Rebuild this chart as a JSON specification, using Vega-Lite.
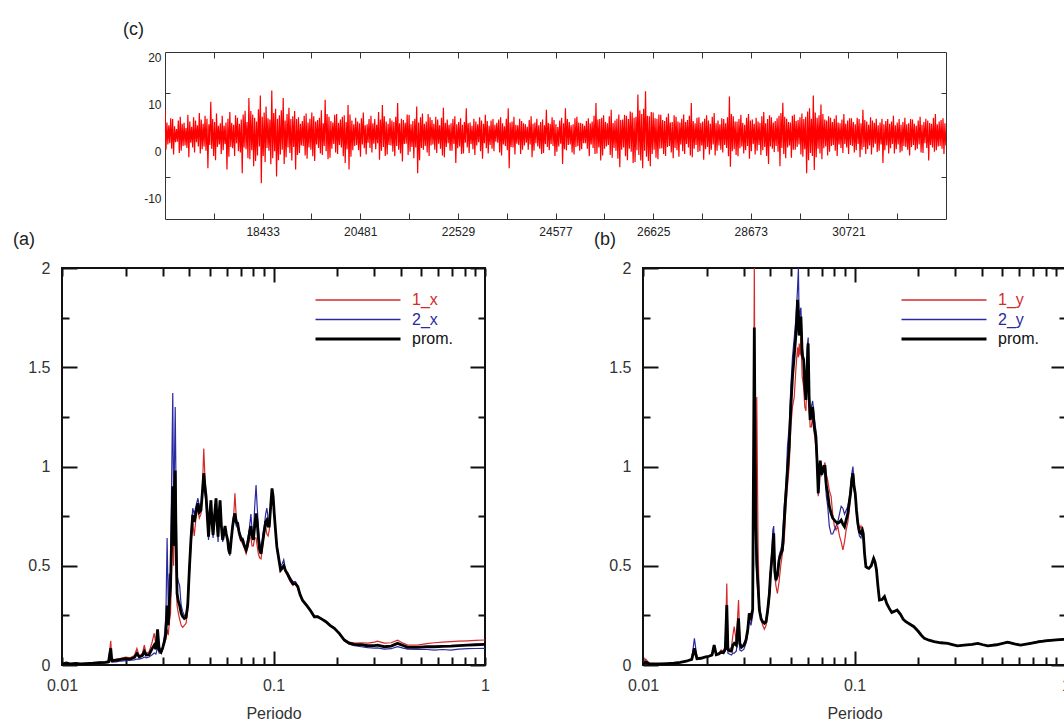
{
  "$schema": "https://vega.github.io/schema/vega-lite/v6.json",
  "background": "white",
  "padding": {"left": 12, "top": 20, "right": 5, "bottom": 5},
  "config": {
    "view": {"stroke": null},
    "font": "Liberation Sans",
    "axis": {"domain": false, "grid": false, "labelFont": "Liberation Sans", "labelColor": "#333", "titleFont": "Liberation Sans", "titleFontWeight": "normal", "titleColor": "#333", "tickColor": "#111", "tickWidth": 2, "labelFlush": false, "labelOverlap": false, "labelBound": false},
    "title": {"fontWeight": "normal", "font": "Liberation Sans", "color": "#222", "fontSize": 18, "anchor": "start", "frame": "group"},
    "legend": {"labelFont": "Liberation Sans"}
  },
  "bounds": "flush",
  "spacing": 216,
  "resolve": {"scale": {"color": "independent"}},
  "vconcat": [
    {
      "bounds": "flush",
      "spacing": 0,
      "hconcat": [
        {"width": 103, "height": 10, "data": {"values": [{"s": 1}]}, "mark": {"type": "point", "opacity": 0}, "encoding": {}},
        {
          "width": 781, "height": 167,
          "view": {"stroke": "#333", "strokeWidth": 1},
          "title": {"text": "(c)", "dx": -42, "offset": 12},
          "data": {"values": [
{"t":16385,"v":8.9},{"t":16405,"v":0.4},{"t":16425,"v":6.2},{"t":16445,"v":1.5},{"t":16465,"v":5.6},{"t":16485,"v":1.8},{"t":16505,"v":7.1},{"t":16525,"v":0.6},{"t":16545,"v":6.9},{"t":16565,"v":-0.6},{"t":16585,"v":5.4},{"t":16605,"v":2.0},{"t":16625,"v":4.8},{"t":16645,"v":2.1},{"t":16665,"v":6.6},{"t":16685,"v":-0.3},{"t":16705,"v":7.4},{"t":16725,"v":0.2},{"t":16745,"v":5.9},{"t":16765,"v":1.2},
{"t":16785,"v":6.1},{"t":16805,"v":1.3},{"t":16825,"v":5.0},{"t":16845,"v":0.8},{"t":16865,"v":7.8},{"t":16885,"v":-1.2},{"t":16905,"v":6.4},{"t":16925,"v":1.9},{"t":16945,"v":5.3},{"t":16965,"v":0.9},{"t":16985,"v":7.3},{"t":17005,"v":-0.2},{"t":17025,"v":6.6},{"t":17045,"v":2.0},{"t":17065,"v":5.6},{"t":17085,"v":1.1},{"t":17105,"v":8.2},{"t":17125,"v":-0.4},{"t":17145,"v":6.8},{"t":17165,"v":0.5},
{"t":17185,"v":5.9},{"t":17205,"v":1.1},{"t":17225,"v":7.6},{"t":17245,"v":0.2},{"t":17265,"v":7.0},{"t":17285,"v":-3.5},{"t":17305,"v":5.8},{"t":17325,"v":1.4},{"t":17345,"v":10.6},{"t":17365,"v":0.6},{"t":17385,"v":6.9},{"t":17405,"v":-0.9},{"t":17425,"v":6.3},{"t":17445,"v":-1.8},{"t":17465,"v":8.1},{"t":17485,"v":1.0},{"t":17505,"v":5.5},{"t":17525,"v":1.5},{"t":17545,"v":6.0},{"t":17565,"v":-0.5},
{"t":17585,"v":7.6},{"t":17605,"v":0.3},{"t":17625,"v":5.5},{"t":17645,"v":1.6},{"t":17665,"v":6.2},{"t":17685,"v":-3.8},{"t":17705,"v":7.0},{"t":17725,"v":-1.1},{"t":17745,"v":8.4},{"t":17765,"v":1.0},{"t":17785,"v":6.1},{"t":17805,"v":0.7},{"t":17825,"v":5.7},{"t":17845,"v":-0.9},{"t":17865,"v":7.7},{"t":17885,"v":1.8},{"t":17905,"v":7.2},{"t":17925,"v":0.1},{"t":17945,"v":5.9},{"t":17965,"v":-0.2},
{"t":17985,"v":6.8},{"t":18005,"v":-4.6},{"t":18025,"v":7.9},{"t":18045,"v":0.9},{"t":18065,"v":8.7},{"t":18085,"v":0.5},{"t":18105,"v":6.3},{"t":18125,"v":-1.4},{"t":18145,"v":11.4},{"t":18165,"v":-1.6},{"t":18185,"v":8.6},{"t":18205,"v":0.3},{"t":18225,"v":7.9},{"t":18245,"v":-3.1},{"t":18265,"v":7.2},{"t":18285,"v":-2.0},{"t":18305,"v":6.4},{"t":18325,"v":-0.8},{"t":18345,"v":9.0},{"t":18365,"v":1.1},
{"t":18385,"v":11.9},{"t":18405,"v":-6.7},{"t":18425,"v":7.4},{"t":18445,"v":-0.9},{"t":18465,"v":8.3},{"t":18485,"v":-2.2},{"t":18505,"v":9.6},{"t":18525,"v":0.8},{"t":18545,"v":7.1},{"t":18565,"v":0.2},{"t":18585,"v":6.8},{"t":18605,"v":-2.7},{"t":18625,"v":13.0},{"t":18645,"v":-1.4},{"t":18665,"v":8.2},{"t":18685,"v":0.1},{"t":18705,"v":9.1},{"t":18725,"v":-5.3},{"t":18745,"v":7.0},{"t":18765,"v":-1.8},
{"t":18785,"v":7.7},{"t":18805,"v":-0.6},{"t":18825,"v":8.8},{"t":18845,"v":0.4},{"t":18865,"v":11.4},{"t":18885,"v":-2.6},{"t":18905,"v":6.6},{"t":18925,"v":-1.2},{"t":18945,"v":8.0},{"t":18965,"v":0.9},{"t":18985,"v":9.3},{"t":19005,"v":-0.3},{"t":19025,"v":6.9},{"t":19045,"v":-1.9},{"t":19065,"v":7.5},{"t":19085,"v":1.0},{"t":19105,"v":8.6},{"t":19125,"v":-3.8},{"t":19145,"v":6.9},{"t":19165,"v":-0.7},
{"t":19185,"v":7.3},{"t":19205,"v":-0.3},{"t":19225,"v":5.9},{"t":19245,"v":1.3},{"t":19265,"v":6.5},{"t":19285,"v":1.2},{"t":19305,"v":7.6},{"t":19325,"v":-0.8},{"t":19345,"v":8.1},{"t":19365,"v":-1.5},{"t":19385,"v":6.2},{"t":19405,"v":0.9},{"t":19425,"v":7.0},{"t":19445,"v":0.4},{"t":19465,"v":8.3},{"t":19485,"v":-1.0},{"t":19505,"v":7.5},{"t":19525,"v":-2.0},{"t":19545,"v":6.4},{"t":19565,"v":1.5},
{"t":19585,"v":6.7},{"t":19605,"v":0.8},{"t":19625,"v":7.2},{"t":19645,"v":-0.4},{"t":19665,"v":8.8},{"t":19685,"v":-0.7},{"t":19705,"v":6.0},{"t":19725,"v":1.2},{"t":19745,"v":11.0},{"t":19765,"v":0.1},{"t":19785,"v":8.0},{"t":19805,"v":-1.6},{"t":19825,"v":7.4},{"t":19845,"v":-1.3},{"t":19865,"v":6.5},{"t":19885,"v":0.6},{"t":19905,"v":6.2},{"t":19925,"v":1.6},{"t":19945,"v":7.8},{"t":19965,"v":-0.2},
{"t":19985,"v":8.0},{"t":20005,"v":-0.5},{"t":20025,"v":6.1},{"t":20045,"v":1.4},{"t":20065,"v":6.8},{"t":20085,"v":0.9},{"t":20105,"v":7.4},{"t":20125,"v":-1.0},{"t":20145,"v":7.7},{"t":20165,"v":-2.4},{"t":20185,"v":6.3},{"t":20205,"v":0.5},{"t":20225,"v":9.9},{"t":20245,"v":-3.8},{"t":20265,"v":7.9},{"t":20285,"v":-1.1},{"t":20305,"v":6.6},{"t":20325,"v":0.3},{"t":20345,"v":5.8},{"t":20365,"v":1.2},
{"t":20385,"v":7.2},{"t":20405,"v":1.4},{"t":20425,"v":6.4},{"t":20445,"v":0.3},{"t":20465,"v":6.0},{"t":20485,"v":-1.1},{"t":20505,"v":7.1},{"t":20525,"v":1.5},{"t":20545,"v":8.3},{"t":20565,"v":0.7},{"t":20585,"v":5.6},{"t":20605,"v":-0.6},{"t":20625,"v":5.8},{"t":20645,"v":1.9},{"t":20665,"v":6.9},{"t":20685,"v":0.8},{"t":20705,"v":7.6},{"t":20725,"v":-0.2},{"t":20745,"v":6.0},{"t":20765,"v":1.7},
{"t":20785,"v":6.9},{"t":20805,"v":0.5},{"t":20825,"v":5.7},{"t":20845,"v":1.8},{"t":20865,"v":8.4},{"t":20885,"v":-1.7},{"t":20905,"v":6.8},{"t":20925,"v":0.2},{"t":20945,"v":9.9},{"t":20965,"v":1.0},{"t":20985,"v":7.5},{"t":21005,"v":-0.9},{"t":21025,"v":6.4},{"t":21045,"v":-0.6},{"t":21065,"v":5.9},{"t":21085,"v":1.4},{"t":21105,"v":7.1},{"t":21125,"v":1.3},{"t":21145,"v":6.6},{"t":21165,"v":0.0},
{"t":21185,"v":6.3},{"t":21205,"v":-1.0},{"t":21225,"v":7.4},{"t":21245,"v":1.2},{"t":21265,"v":10.3},{"t":21285,"v":0.4},{"t":21305,"v":6.0},{"t":21325,"v":-0.4},{"t":21345,"v":7.0},{"t":21365,"v":-2.1},{"t":21385,"v":6.7},{"t":21405,"v":1.6},{"t":21425,"v":6.1},{"t":21445,"v":1.7},{"t":21465,"v":7.9},{"t":21485,"v":-0.7},{"t":21505,"v":7.8},{"t":21525,"v":0.0},{"t":21545,"v":5.8},{"t":21565,"v":1.0},
{"t":21585,"v":6.5},{"t":21605,"v":-1.4},{"t":21625,"v":7.0},{"t":21645,"v":0.9},{"t":21665,"v":9.6},{"t":21685,"v":-4.6},{"t":21705,"v":6.2},{"t":21725,"v":-1.8},{"t":21745,"v":7.3},{"t":21765,"v":0.8},{"t":21785,"v":8.1},{"t":21805,"v":0.4},{"t":21825,"v":5.9},{"t":21845,"v":1.2},{"t":21865,"v":6.4},{"t":21885,"v":-0.2},{"t":21905,"v":8.0},{"t":21925,"v":-0.9},{"t":21945,"v":7.3},{"t":21965,"v":1.3},
{"t":21985,"v":6.7},{"t":22005,"v":1.5},{"t":22025,"v":5.9},{"t":22045,"v":0.4},{"t":22065,"v":7.4},{"t":22085,"v":-0.3},{"t":22105,"v":6.8},{"t":22125,"v":1.7},{"t":22145,"v":5.6},{"t":22165,"v":0.6},{"t":22185,"v":7.2},{"t":22205,"v":-0.8},{"t":22225,"v":9.3},{"t":22245,"v":-1.2},{"t":22265,"v":6.1},{"t":22285,"v":1.0},{"t":22305,"v":6.8},{"t":22325,"v":1.8},{"t":22345,"v":5.7},{"t":22365,"v":0.2},
{"t":22385,"v":6.0},{"t":22405,"v":0.2},{"t":22425,"v":6.9},{"t":22445,"v":1.6},{"t":22465,"v":7.5},{"t":22485,"v":-2.4},{"t":22505,"v":5.8},{"t":22525,"v":0.7},{"t":22545,"v":6.3},{"t":22565,"v":1.1},{"t":22585,"v":7.1},{"t":22605,"v":-0.5},{"t":22625,"v":5.7},{"t":22645,"v":-0.4},{"t":22665,"v":6.3},{"t":22685,"v":1.9},{"t":22705,"v":9.2},{"t":22725,"v":0.9},{"t":22745,"v":6.0},{"t":22765,"v":-0.3},
{"t":22785,"v":6.2},{"t":22805,"v":1.6},{"t":22825,"v":5.5},{"t":22845,"v":0.5},{"t":22865,"v":7.0},{"t":22885,"v":-0.7},{"t":22905,"v":6.4},{"t":22925,"v":1.3},{"t":22945,"v":5.8},{"t":22965,"v":2.0},{"t":22985,"v":7.3},{"t":23005,"v":0.1},{"t":23025,"v":6.6},{"t":23045,"v":-1.5},{"t":23065,"v":5.9},{"t":23085,"v":1.8},{"t":23105,"v":7.8},{"t":23125,"v":0.7},{"t":23145,"v":6.5},{"t":23165,"v":-0.4},
{"t":23185,"v":5.5},{"t":23205,"v":1.4},{"t":23225,"v":6.6},{"t":23245,"v":0.6},{"t":23265,"v":6.9},{"t":23285,"v":0.1},{"t":23305,"v":5.7},{"t":23325,"v":2.1},{"t":23345,"v":6.1},{"t":23365,"v":1.9},{"t":23385,"v":6.8},{"t":23405,"v":-0.2},{"t":23425,"v":7.3},{"t":23445,"v":-0.8},{"t":23465,"v":6.0},{"t":23485,"v":1.5},{"t":23505,"v":5.4},{"t":23525,"v":1.2},{"t":23545,"v":7.0},{"t":23565,"v":0.3},
{"t":23585,"v":9.2},{"t":23605,"v":-3.5},{"t":23625,"v":6.2},{"t":23645,"v":1.0},{"t":23665,"v":6.4},{"t":23685,"v":0.9},{"t":23705,"v":7.4},{"t":23725,"v":-0.6},{"t":23745,"v":5.7},{"t":23765,"v":1.7},{"t":23785,"v":5.6},{"t":23805,"v":1.4},{"t":23825,"v":7.0},{"t":23845,"v":-0.5},{"t":23865,"v":6.5},{"t":23885,"v":0.4},{"t":23905,"v":6.0},{"t":23925,"v":1.3},{"t":23945,"v":5.8},{"t":23965,"v":1.9},
{"t":23985,"v":5.3},{"t":24005,"v":0.4},{"t":24025,"v":6.7},{"t":24045,"v":1.5},{"t":24065,"v":7.5},{"t":24085,"v":-1.2},{"t":24105,"v":5.9},{"t":24125,"v":0.2},{"t":24145,"v":6.2},{"t":24165,"v":1.8},{"t":24185,"v":7.0},{"t":24205,"v":1.1},{"t":24225,"v":5.6},{"t":24245,"v":0.6},{"t":24265,"v":6.3},{"t":24285,"v":-0.5},{"t":24305,"v":6.8},{"t":24325,"v":-0.3},{"t":24345,"v":5.6},{"t":24365,"v":1.6},
{"t":24385,"v":8.9},{"t":24405,"v":1.0},{"t":24425,"v":6.1},{"t":24445,"v":0.3},{"t":24465,"v":5.9},{"t":24485,"v":1.6},{"t":24505,"v":7.3},{"t":24525,"v":1.2},{"t":24545,"v":6.7},{"t":24565,"v":-0.9},{"t":24585,"v":5.8},{"t":24605,"v":0.0},{"t":24625,"v":5.2},{"t":24645,"v":1.1},{"t":24665,"v":6.6},{"t":24685,"v":1.7},{"t":24705,"v":7.2},{"t":24725,"v":-2.6},{"t":24745,"v":6.0},{"t":24765,"v":0.5},
{"t":24785,"v":9.2},{"t":24805,"v":0.3},{"t":24825,"v":6.9},{"t":24845,"v":1.4},{"t":24865,"v":6.3},{"t":24885,"v":1.5},{"t":24905,"v":5.6},{"t":24925,"v":-0.2},{"t":24945,"v":5.8},{"t":24965,"v":-0.6},{"t":24985,"v":7.1},{"t":25005,"v":1.0},{"t":25025,"v":7.4},{"t":25045,"v":1.2},{"t":25065,"v":6.2},{"t":25085,"v":0.2},{"t":25105,"v":6.1},{"t":25125,"v":0.5},{"t":25145,"v":5.9},{"t":25165,"v":1.8},
{"t":25185,"v":5.5},{"t":25205,"v":1.8},{"t":25225,"v":6.5},{"t":25245,"v":0.6},{"t":25265,"v":7.1},{"t":25285,"v":-1.0},{"t":25305,"v":6.0},{"t":25325,"v":1.5},{"t":25345,"v":6.4},{"t":25365,"v":0.8},{"t":25385,"v":7.6},{"t":25405,"v":-0.5},{"t":25425,"v":10.3},{"t":25445,"v":-0.4},{"t":25465,"v":6.8},{"t":25485,"v":0.9},{"t":25505,"v":6.9},{"t":25525,"v":-1.9},{"t":25545,"v":7.2},{"t":25565,"v":-0.8},
{"t":25585,"v":7.7},{"t":25605,"v":0.6},{"t":25625,"v":6.3},{"t":25645,"v":1.1},{"t":25665,"v":6.0},{"t":25685,"v":1.4},{"t":25705,"v":7.5},{"t":25725,"v":-0.7},{"t":25745,"v":8.9},{"t":25765,"v":-1.3},{"t":25785,"v":6.1},{"t":25805,"v":0.8},{"t":25825,"v":6.6},{"t":25845,"v":0.2},{"t":25865,"v":7.0},{"t":25885,"v":-1.5},{"t":25905,"v":7.9},{"t":25925,"v":-3.3},{"t":25945,"v":6.7},{"t":25965,"v":0.4},
{"t":25985,"v":6.8},{"t":26005,"v":0.9},{"t":26025,"v":7.8},{"t":26045,"v":-1.0},{"t":26065,"v":7.6},{"t":26085,"v":-1.8},{"t":26105,"v":6.9},{"t":26125,"v":0.6},{"t":26145,"v":8.5},{"t":26165,"v":0.0},{"t":26185,"v":8.3},{"t":26205,"v":-2.4},{"t":26225,"v":7.2},{"t":26245,"v":-2.2},{"t":26265,"v":7.4},{"t":26285,"v":0.3},{"t":26305,"v":12.1},{"t":26325,"v":-0.7},{"t":26345,"v":8.8},{"t":26365,"v":-1.9},
{"t":26385,"v":8.0},{"t":26405,"v":-3.5},{"t":26425,"v":9.1},{"t":26445,"v":0.2},{"t":26465,"v":12.8},{"t":26485,"v":-1.1},{"t":26505,"v":7.6},{"t":26525,"v":-2.0},{"t":26545,"v":7.5},{"t":26565,"v":-3.1},{"t":26585,"v":8.4},{"t":26605,"v":-0.5},{"t":26625,"v":8.3},{"t":26645,"v":0.4},{"t":26665,"v":7.1},{"t":26685,"v":-1.3},{"t":26705,"v":7.0},{"t":26725,"v":-1.6},{"t":26745,"v":7.9},{"t":26765,"v":0.6},
{"t":26785,"v":7.8},{"t":26805,"v":0.7},{"t":26825,"v":6.7},{"t":26845,"v":-0.5},{"t":26865,"v":6.5},{"t":26885,"v":-0.9},{"t":26905,"v":7.3},{"t":26925,"v":1.0},{"t":26945,"v":8.1},{"t":26965,"v":1.2},{"t":26985,"v":6.2},{"t":27005,"v":-0.2},{"t":27025,"v":6.3},{"t":27045,"v":-1.4},{"t":27065,"v":7.7},{"t":27085,"v":0.8},{"t":27105,"v":7.4},{"t":27125,"v":0.3},{"t":27145,"v":6.4},{"t":27165,"v":-1.1},
{"t":27185,"v":6.2},{"t":27205,"v":1.5},{"t":27225,"v":7.0},{"t":27245,"v":0.1},{"t":27265,"v":7.9},{"t":27285,"v":-0.5},{"t":27305,"v":6.3},{"t":27325,"v":1.6},{"t":27345,"v":6.7},{"t":27365,"v":0.9},{"t":27385,"v":7.6},{"t":27405,"v":-0.8},{"t":27425,"v":10.3},{"t":27445,"v":-1.2},{"t":27465,"v":6.5},{"t":27485,"v":0.6},{"t":27505,"v":6.0},{"t":27525,"v":1.4},{"t":27545,"v":7.2},{"t":27565,"v":-0.1},
{"t":27585,"v":7.3},{"t":27605,"v":0.1},{"t":27625,"v":6.1},{"t":27645,"v":1.3},{"t":27665,"v":6.4},{"t":27685,"v":-1.7},{"t":27705,"v":7.0},{"t":27725,"v":0.5},{"t":27745,"v":7.7},{"t":27765,"v":1.0},{"t":27785,"v":6.6},{"t":27805,"v":-0.6},{"t":27825,"v":5.9},{"t":27845,"v":0.4},{"t":27865,"v":7.4},{"t":27885,"v":1.5},{"t":27905,"v":8.2},{"t":27925,"v":-0.8},{"t":27945,"v":6.0},{"t":27965,"v":0.2},
{"t":27985,"v":6.6},{"t":28005,"v":1.3},{"t":28025,"v":5.8},{"t":28045,"v":0.4},{"t":28065,"v":7.1},{"t":28085,"v":-0.2},{"t":28105,"v":6.9},{"t":28125,"v":1.4},{"t":28145,"v":6.0},{"t":28165,"v":0.8},{"t":28185,"v":7.3},{"t":28205,"v":-1.0},{"t":28225,"v":11.7},{"t":28245,"v":-3.2},{"t":28265,"v":8.0},{"t":28285,"v":0.1},{"t":28305,"v":7.5},{"t":28325,"v":0.5},{"t":28345,"v":6.4},{"t":28365,"v":-0.7},
{"t":28385,"v":6.4},{"t":28405,"v":-1.0},{"t":28425,"v":6.9},{"t":28445,"v":0.7},{"t":28465,"v":7.8},{"t":28485,"v":1.1},{"t":28505,"v":6.1},{"t":28525,"v":-0.4},{"t":28545,"v":5.7},{"t":28565,"v":0.3},{"t":28585,"v":7.2},{"t":28605,"v":1.2},{"t":28625,"v":8.0},{"t":28645,"v":-1.5},{"t":28665,"v":6.6},{"t":28685,"v":0.1},{"t":28705,"v":6.8},{"t":28725,"v":1.6},{"t":28745,"v":5.9},{"t":28765,"v":-0.6},
{"t":28785,"v":7.2},{"t":28805,"v":0.2},{"t":28825,"v":6.4},{"t":28845,"v":1.4},{"t":28865,"v":6.1},{"t":28885,"v":-0.7},{"t":28905,"v":7.5},{"t":28925,"v":0.3},{"t":28945,"v":8.4},{"t":28965,"v":1.0},{"t":28985,"v":6.0},{"t":29005,"v":-0.9},{"t":29025,"v":6.9},{"t":29045,"v":-2.6},{"t":29065,"v":7.7},{"t":29085,"v":1.1},{"t":29105,"v":7.3},{"t":29125,"v":0.6},{"t":29145,"v":6.2},{"t":29165,"v":-0.1},
{"t":29185,"v":6.5},{"t":29205,"v":1.2},{"t":29225,"v":7.1},{"t":29245,"v":0.0},{"t":29265,"v":7.6},{"t":29285,"v":-3.1},{"t":29305,"v":8.2},{"t":29325,"v":0.8},{"t":29345,"v":10.4},{"t":29365,"v":-0.5},{"t":29385,"v":7.4},{"t":29405,"v":-1.4},{"t":29425,"v":7.0},{"t":29445,"v":0.9},{"t":29465,"v":6.3},{"t":29485,"v":1.3},{"t":29505,"v":6.2},{"t":29525,"v":-1.3},{"t":29545,"v":7.6},{"t":29565,"v":0.4},
{"t":29585,"v":7.9},{"t":29605,"v":0.4},{"t":29625,"v":6.5},{"t":29645,"v":1.0},{"t":29665,"v":6.7},{"t":29685,"v":1.5},{"t":29705,"v":7.3},{"t":29725,"v":-0.6},{"t":29745,"v":8.1},{"t":29765,"v":-1.1},{"t":29785,"v":6.9},{"t":29805,"v":0.5},{"t":29825,"v":7.4},{"t":29845,"v":-4.6},{"t":29865,"v":8.5},{"t":29885,"v":-1.8},{"t":29905,"v":9.2},{"t":29925,"v":-0.3},{"t":29945,"v":7.0},{"t":29965,"v":-0.9},
{"t":29985,"v":11.9},{"t":30005,"v":-3.9},{"t":30025,"v":8.3},{"t":30045,"v":-1.2},{"t":30065,"v":7.2},{"t":30085,"v":0.6},{"t":30105,"v":7.7},{"t":30125,"v":-0.4},{"t":30145,"v":10.0},{"t":30165,"v":-1.6},{"t":30185,"v":8.0},{"t":30205,"v":0.7},{"t":30225,"v":6.8},{"t":30245,"v":1.1},{"t":30265,"v":6.6},{"t":30285,"v":-0.8},{"t":30305,"v":7.5},{"t":30325,"v":0.0},{"t":30345,"v":7.2},{"t":30365,"v":1.2},
{"t":30385,"v":6.3},{"t":30405,"v":1.4},{"t":30425,"v":7.0},{"t":30445,"v":0.2},{"t":30465,"v":7.7},{"t":30485,"v":-0.9},{"t":30505,"v":6.2},{"t":30525,"v":1.5},{"t":30545,"v":6.0},{"t":30565,"v":0.8},{"t":30585,"v":6.8},{"t":30605,"v":-0.3},{"t":30625,"v":8.0},{"t":30645,"v":1.6},{"t":30665,"v":5.9},{"t":30685,"v":0.9},{"t":30705,"v":6.6},{"t":30725,"v":-0.5},{"t":30745,"v":7.1},{"t":30765,"v":1.4},
{"t":30785,"v":7.1},{"t":30805,"v":1.2},{"t":30825,"v":6.3},{"t":30845,"v":-0.2},{"t":30865,"v":5.8},{"t":30885,"v":0.3},{"t":30905,"v":7.2},{"t":30925,"v":1.6},{"t":30945,"v":6.9},{"t":30965,"v":-1.2},{"t":30985,"v":6.0},{"t":31005,"v":0.4},{"t":31025,"v":8.9},{"t":31045,"v":1.0},{"t":31065,"v":6.7},{"t":31085,"v":-0.5},{"t":31105,"v":6.4},{"t":31125,"v":0.5},{"t":31145,"v":5.7},{"t":31165,"v":1.3},
{"t":31185,"v":7.3},{"t":31205,"v":-0.6},{"t":31225,"v":6.6},{"t":31245,"v":0.9},{"t":31265,"v":6.1},{"t":31285,"v":1.7},{"t":31305,"v":7.0},{"t":31325,"v":-0.1},{"t":31345,"v":5.6},{"t":31365,"v":0.2},{"t":31385,"v":6.2},{"t":31405,"v":1.5},{"t":31425,"v":7.0},{"t":31445,"v":-2.4},{"t":31465,"v":5.8},{"t":31485,"v":0.3},{"t":31505,"v":6.5},{"t":31525,"v":1.3},{"t":31545,"v":6.9},{"t":31565,"v":-0.4},
{"t":31585,"v":5.9},{"t":31605,"v":0.7},{"t":31625,"v":6.4},{"t":31645,"v":1.6},{"t":31665,"v":7.6},{"t":31685,"v":-0.4},{"t":31705,"v":5.6},{"t":31725,"v":0.5},{"t":31745,"v":6.2},{"t":31765,"v":1.5},{"t":31785,"v":6.9},{"t":31805,"v":-0.2},{"t":31825,"v":5.7},{"t":31845,"v":0.1},{"t":31865,"v":6.3},{"t":31885,"v":1.2},{"t":31905,"v":7.2},{"t":31925,"v":1.0},{"t":31945,"v":5.8},{"t":31965,"v":0.4},
{"t":31985,"v":6.0},{"t":32005,"v":-0.8},{"t":32025,"v":6.9},{"t":32045,"v":1.0},{"t":32065,"v":6.8},{"t":32085,"v":1.4},{"t":32105,"v":5.9},{"t":32125,"v":0.3},{"t":32145,"v":5.5},{"t":32165,"v":0.6},{"t":32185,"v":6.6},{"t":32205,"v":1.5},{"t":32225,"v":7.4},{"t":32245,"v":-0.2},{"t":32265,"v":5.7},{"t":32285,"v":-0.3},{"t":32305,"v":6.3},{"t":32325,"v":1.8},{"t":32345,"v":7.0},{"t":32365,"v":0.8},
{"t":32385,"v":6.6},{"t":32405,"v":-1.9},{"t":32425,"v":6.1},{"t":32445,"v":1.4},{"t":32465,"v":5.9},{"t":32485,"v":0.9},{"t":32505,"v":7.2},{"t":32525,"v":0.0},{"t":32545,"v":8.0},{"t":32565,"v":0.3},{"t":32585,"v":5.8},{"t":32605,"v":1.1},{"t":32625,"v":6.4},{"t":32645,"v":1.2},{"t":32665,"v":6.7},{"t":32685,"v":0.6},{"t":32705,"v":7.1},{"t":32725,"v":-0.5},{"t":32745,"v":6.0},{"t":32765,"v":1.3}
          ]},
          "layer": [
            {
              "mark": {"type": "line", "color": "#ff0000", "strokeWidth": 1.2, "clip": true},
              "encoding": {
                "x": {"field": "t", "type": "quantitative", "scale": {"domain": [16385, 32768], "nice": false, "zero": false},
                      "axis": {"orient": "bottom", "values": [18433, 20481, 22529, 24577, 26625, 28673, 30721], "ticks": false, "labelExpr": "'' + datum.value", "labelPadding": 7, "labelFontSize": 12, "labelColor": "#222", "title": null}},
                "y": {"field": "v", "type": "quantitative", "scale": {"domain": [-14.3, 21.15], "nice": false, "zero": false},
                      "axis": {"orient": "left", "values": [20, 10, 0, -10], "ticks": false, "labelExpr": "'' + datum.value", "labelPadding": 4, "labelFontSize": 12, "labelColor": "#222", "title": null}}
              }
            },
            {
              "transform": [{"filter": "datum.t == 16385"}],
              "mark": {"type": "point", "opacity": 0},
              "encoding": {
                "x": {"field": "t", "type": "quantitative", "scale": {"domain": [16385, 32768], "nice": false, "zero": false},
                      "axis": {"orient": "bottom", "values": [17409, 18433, 19457, 20481, 21505, 22529, 23553, 24577, 25601, 26625, 27649, 28673, 29697, 30721, 31745], "labels": false, "tickSize": -6, "tickWidth": 1, "tickColor": "#333", "title": null}},
                "y": {"field": "v", "type": "quantitative", "scale": {"domain": [-14.3, 21.15], "nice": false, "zero": false},
                      "axis": {"orient": "left", "values": [12.4, -5.3], "labels": false, "tickSize": -5, "tickWidth": 1, "tickColor": "#333", "title": null}}
              }
            },
            {
              "transform": [{"filter": "datum.t == 16385"}],
              "mark": {"type": "point", "opacity": 0},
              "encoding": {
                "x": {"field": "t", "type": "quantitative", "scale": {"domain": [16385, 32768], "nice": false, "zero": false},
                      "axis": {"orient": "top", "values": [17409, 18433, 19457, 20481, 21505, 22529, 23553, 24577, 25601, 26625, 27649, 28673, 29697, 30721, 31745], "labels": false, "tickSize": -6, "tickWidth": 1, "tickColor": "#333", "title": null}},
                "y": {"field": "v", "type": "quantitative", "scale": {"domain": [-14.3, 21.15], "nice": false, "zero": false},
                      "axis": {"orient": "right", "values": [12.4, -5.3], "labels": false, "tickSize": -5, "tickWidth": 1, "tickColor": "#333", "title": null}}
              }
            }
          ],
          "resolve": {"axis": {"x": "independent", "y": "independent"}}
        }
      ]
    },
    {
      "bounds": "flush",
      "spacing": 158,
      "resolve": {"scale": {"color": "independent"}},
      "hconcat": [
        {
          "width": 423, "height": 397,
          "view": {"stroke": "#111", "strokeWidth": 2},
          "title": {"text": "(a)", "dx": -49, "offset": 11},
          "data": {"values": [
{"p":0.0100,"r":0.008,"b":0.005,"k":0.006},{"p":0.0105,"r":0.012,"b":0.006,"k":0.010},{"p":0.0110,"r":0.006,"b":0.004,"k":0.005},{"p":0.0116,"r":0.010,"b":0.006,"k":0.008},{"p":0.0122,"r":0.006,"b":0.004,"k":0.005},
{"p":0.0130,"r":0.008,"b":0.006,"k":0.007},{"p":0.0140,"r":0.010,"b":0.007,"k":0.009},{"p":0.0150,"r":0.014,"b":0.009,"k":0.012},{"p":0.0160,"r":0.016,"b":0.010,"k":0.013},{"p":0.0166,"r":0.020,"b":0.012,"k":0.016},
{"p":0.0170,"r":0.122,"b":0.030,"k":0.084},{"p":0.0172,"r":0.030,"b":0.015,"k":0.022},{"p":0.0180,"r":0.028,"b":0.016,"k":0.024},{"p":0.0190,"r":0.034,"b":0.020,"k":0.028},{"p":0.0200,"r":0.040,"b":0.022,"k":0.032},
{"p":0.0210,"r":0.036,"b":0.024,"k":0.030},{"p":0.0220,"r":0.048,"b":0.026,"k":0.038},{"p":0.0226,"r":0.084,"b":0.030,"k":0.058},{"p":0.0232,"r":0.046,"b":0.030,"k":0.040},{"p":0.0240,"r":0.058,"b":0.034,"k":0.048},
{"p":0.0245,"r":0.100,"b":0.040,"k":0.068},{"p":0.0250,"r":0.058,"b":0.036,"k":0.050},{"p":0.0258,"r":0.066,"b":0.040,"k":0.052},{"p":0.0266,"r":0.110,"b":0.050,"k":0.080},{"p":0.0273,"r":0.160,"b":0.060,"k":0.100},
{"p":0.0278,"r":0.100,"b":0.055,"k":0.080},{"p":0.0283,"r":0.150,"b":0.090,"k":0.180},{"p":0.0288,"r":0.090,"b":0.060,"k":0.075},{"p":0.0294,"r":0.080,"b":0.060,"k":0.065},{"p":0.0300,"r":0.090,"b":0.080,"k":0.090},
{"p":0.0305,"r":0.110,"b":0.150,"k":0.120},{"p":0.0310,"r":0.130,"b":0.250,"k":0.160},{"p":0.0314,"r":0.180,"b":0.640,"k":0.300},{"p":0.0318,"r":0.150,"b":0.300,"k":0.200},{"p":0.0322,"r":0.220,"b":0.460,"k":0.320},
{"p":0.0326,"r":0.260,"b":0.420,"k":0.400},{"p":0.0330,"r":0.500,"b":0.950,"k":0.650},{"p":0.0334,"r":0.850,"b":1.370,"k":0.900},{"p":0.0337,"r":0.500,"b":0.800,"k":0.600},{"p":0.0340,"r":0.700,"b":1.000,"k":0.880},
{"p":0.0343,"r":0.900,"b":1.300,"k":0.980},{"p":0.0346,"r":0.500,"b":0.900,"k":0.650},{"p":0.0350,"r":0.300,"b":0.450,"k":0.360},{"p":0.0355,"r":0.260,"b":0.420,"k":0.320},{"p":0.0360,"r":0.230,"b":0.400,"k":0.300},
{"p":0.0366,"r":0.200,"b":0.300,"k":0.260},{"p":0.0372,"r":0.190,"b":0.270,"k":0.245},{"p":0.0379,"r":0.200,"b":0.250,"k":0.235},{"p":0.0386,"r":0.210,"b":0.250,"k":0.240},{"p":0.0393,"r":0.280,"b":0.320,"k":0.300},
{"p":0.0400,"r":0.450,"b":0.500,"k":0.480},{"p":0.0407,"r":0.600,"b":0.650,"k":0.630},{"p":0.0415,"r":0.720,"b":0.790,"k":0.756},{"p":0.0422,"r":0.650,"b":0.760,"k":0.720},{"p":0.0430,"r":0.740,"b":0.800,"k":0.770},
{"p":0.0439,"r":0.790,"b":0.840,"k":0.815},{"p":0.0446,"r":0.740,"b":0.800,"k":0.770},{"p":0.0454,"r":0.760,"b":0.800,"k":0.780},{"p":0.0461,"r":0.880,"b":0.860,"k":0.870},{"p":0.0468,"r":1.090,"b":0.900,"k":0.966},
{"p":0.0474,"r":0.950,"b":0.860,"k":0.900},{"p":0.0480,"r":0.860,"b":0.820,"k":0.850},{"p":0.0487,"r":0.760,"b":0.720,"k":0.740},{"p":0.0493,"r":0.650,"b":0.630,"k":0.646},{"p":0.0500,"r":0.760,"b":0.740,"k":0.760},
{"p":0.0506,"r":0.820,"b":0.830,"k":0.830},{"p":0.0512,"r":0.720,"b":0.700,"k":0.720},{"p":0.0518,"r":0.650,"b":0.640,"k":0.655},{"p":0.0526,"r":0.760,"b":0.740,"k":0.750},{"p":0.0535,"r":0.840,"b":0.830,"k":0.840},
{"p":0.0541,"r":0.740,"b":0.700,"k":0.720},{"p":0.0547,"r":0.650,"b":0.620,"k":0.646},{"p":0.0553,"r":0.760,"b":0.760,"k":0.760},{"p":0.0559,"r":0.830,"b":0.820,"k":0.830},{"p":0.0567,"r":0.700,"b":0.700,"k":0.700},
{"p":0.0575,"r":0.630,"b":0.620,"k":0.630},{"p":0.0582,"r":0.660,"b":0.660,"k":0.660},{"p":0.0590,"r":0.700,"b":0.690,"k":0.700},{"p":0.0598,"r":0.660,"b":0.650,"k":0.660},{"p":0.0607,"r":0.620,"b":0.630,"k":0.630},
{"p":0.0614,"r":0.580,"b":0.580,"k":0.580},{"p":0.0622,"r":0.560,"b":0.550,"k":0.560},{"p":0.0631,"r":0.620,"b":0.630,"k":0.630},{"p":0.0641,"r":0.710,"b":0.690,"k":0.700},{"p":0.0649,"r":0.760,"b":0.720,"k":0.740},
{"p":0.0657,"r":0.865,"b":0.730,"k":0.764},{"p":0.0667,"r":0.740,"b":0.700,"k":0.720},{"p":0.0677,"r":0.700,"b":0.720,"k":0.714},{"p":0.0687,"r":0.660,"b":0.680,"k":0.670},{"p":0.0697,"r":0.630,"b":0.660,"k":0.646},
{"p":0.0706,"r":0.620,"b":0.640,"k":0.630},{"p":0.0715,"r":0.610,"b":0.640,"k":0.630},{"p":0.0728,"r":0.590,"b":0.610,"k":0.600},{"p":0.0742,"r":0.560,"b":0.590,"k":0.580},{"p":0.0751,"r":0.580,"b":0.620,"k":0.600},
{"p":0.0760,"r":0.600,"b":0.650,"k":0.630},{"p":0.0771,"r":0.640,"b":0.700,"k":0.670},{"p":0.0782,"r":0.640,"b":0.760,"k":0.700},{"p":0.0792,"r":0.600,"b":0.680,"k":0.650},{"p":0.0803,"r":0.600,"b":0.650,"k":0.630},
{"p":0.0815,"r":0.640,"b":0.800,"k":0.700},{"p":0.0827,"r":0.640,"b":0.907,"k":0.764},{"p":0.0837,"r":0.600,"b":0.800,"k":0.720},{"p":0.0848,"r":0.560,"b":0.700,"k":0.640},{"p":0.0860,"r":0.540,"b":0.620,"k":0.580},
{"p":0.0873,"r":0.535,"b":0.580,"k":0.560},{"p":0.0889,"r":0.600,"b":0.650,"k":0.620},{"p":0.0905,"r":0.660,"b":0.700,"k":0.680},{"p":0.0918,"r":0.700,"b":0.760,"k":0.720},{"p":0.0930,"r":0.660,"b":0.790,"k":0.730},
{"p":0.0943,"r":0.650,"b":0.740,"k":0.700},{"p":0.0955,"r":0.680,"b":0.720,"k":0.700},{"p":0.0970,"r":0.800,"b":0.800,"k":0.800},{"p":0.0984,"r":0.880,"b":0.880,"k":0.890},{"p":0.0996,"r":0.850,"b":0.850,"k":0.850},
{"p":0.1008,"r":0.760,"b":0.770,"k":0.764},{"p":0.1022,"r":0.680,"b":0.680,"k":0.680},{"p":0.1037,"r":0.590,"b":0.600,"k":0.596},{"p":0.1050,"r":0.560,"b":0.570,"k":0.560},{"p":0.1062,"r":0.520,"b":0.530,"k":0.528},
{"p":0.1080,"r":0.470,"b":0.500,"k":0.479},{"p":0.1100,"r":0.480,"b":0.510,"k":0.490},{"p":0.1118,"r":0.490,"b":0.530,"k":0.500},{"p":0.1140,"r":0.470,"b":0.480,"k":0.475},{"p":0.1164,"r":0.450,"b":0.460,"k":0.460},
{"p":0.1200,"r":0.420,"b":0.440,"k":0.430},{"p":0.1235,"r":0.400,"b":0.420,"k":0.410},{"p":0.1270,"r":0.410,"b":0.420,"k":0.410},{"p":0.1303,"r":0.385,"b":0.395,"k":0.395},{"p":0.1335,"r":0.350,"b":0.360,"k":0.355},
{"p":0.1370,"r":0.320,"b":0.330,"k":0.327},{"p":0.1410,"r":0.305,"b":0.310,"k":0.310},{"p":0.1450,"r":0.290,"b":0.295,"k":0.294},{"p":0.1500,"r":0.270,"b":0.275,"k":0.272},{"p":0.1560,"r":0.243,"b":0.245,"k":0.243},
{"p":0.1618,"r":0.243,"b":0.245,"k":0.243},{"p":0.1700,"r":0.230,"b":0.232,"k":0.230},{"p":0.1770,"r":0.215,"b":0.218,"k":0.218},{"p":0.1850,"r":0.200,"b":0.200,"k":0.200},{"p":0.1940,"r":0.185,"b":0.185,"k":0.185},
{"p":0.2050,"r":0.160,"b":0.155,"k":0.158},{"p":0.2160,"r":0.130,"b":0.122,"k":0.126},{"p":0.2280,"r":0.115,"b":0.105,"k":0.110},{"p":0.2410,"r":0.110,"b":0.098,"k":0.104},{"p":0.2600,"r":0.112,"b":0.092,"k":0.102},
{"p":0.2790,"r":0.110,"b":0.088,"k":0.097},{"p":0.3000,"r":0.115,"b":0.085,"k":0.098},{"p":0.3100,"r":0.120,"b":0.086,"k":0.100},{"p":0.3340,"r":0.110,"b":0.080,"k":0.092},{"p":0.3600,"r":0.112,"b":0.082,"k":0.095},
{"p":0.3860,"r":0.125,"b":0.092,"k":0.109},{"p":0.4100,"r":0.110,"b":0.085,"k":0.098},{"p":0.4310,"r":0.100,"b":0.080,"k":0.089},{"p":0.4800,"r":0.100,"b":0.078,"k":0.089},{"p":0.5300,"r":0.108,"b":0.078,"k":0.092},
{"p":0.5760,"r":0.112,"b":0.075,"k":0.092},{"p":0.6300,"r":0.115,"b":0.078,"k":0.094},{"p":0.6900,"r":0.118,"b":0.075,"k":0.095},{"p":0.7500,"r":0.120,"b":0.080,"k":0.098},{"p":0.8280,"r":0.122,"b":0.082,"k":0.100},
{"p":0.9000,"r":0.124,"b":0.083,"k":0.102},{"p":1.0000,"r":0.126,"b":0.084,"k":0.104}
          ]},
          "layer": [
            {
              "mark": {"type": "line", "strokeWidth": 1.2, "clip": true},
              "encoding": {
                "x": {"field": "p", "type": "quantitative", "scale": {"type": "log", "domain": [0.01, 1], "nice": false},
                      "axis": {"orient": "bottom", "values": [0.01, 0.1, 1], "ticks": false, "labelExpr": "'' + datum.value", "labelPadding": 12, "labelFontSize": 16, "title": "Periodo", "titleFontSize": 16, "titlePadding": 12}},
                "y": {"field": "r", "type": "quantitative", "scale": {"domain": [0, 2], "nice": false},
                      "axis": {"orient": "left", "values": [0, 0.5, 1, 1.5, 2], "ticks": false, "labelExpr": "'' + datum.value", "labelPadding": 12, "labelFontSize": 16, "title": null}},
                "color": {"datum": "1_x", "type": "nominal",
                          "scale": {"domain": ["1_x", "2_x", "prom."], "range": ["#d42a2a", "#2a2aa0", "#000000"]},
                          "legend": {"orient": "none", "legendX": 288, "legendY": 24, "title": null, "padding": 0, "symbolType": "stroke", "symbolSize": 7225, "symbolStrokeWidth": 1.3, "labelFontSize": 16, "labelOffset": 46, "rowPadding": 3.5,
                                     "encode": {"labels": {"update": {"fill": {"signal": "datum.value == '1_x' ? '#d42a2a' : datum.value == '2_x' ? '#2a2aa0' : '#111111'"}}},
                                                "symbols": {"update": {"strokeWidth": {"signal": "datum.value == 'prom.' ? 3 : 1.3"}}}}}}
              }
            },
            {
              "mark": {"type": "line", "strokeWidth": 1.2, "clip": true},
              "encoding": {
                "x": {"field": "p", "type": "quantitative", "scale": {"type": "log", "domain": [0.01, 1], "nice": false},
                      "axis": {"orient": "bottom", "values": [0.01, 0.02, 0.03, 0.04, 0.05, 0.06, 0.07, 0.08, 0.09, 0.1, 0.2, 0.3, 0.4, 0.5, 0.6, 0.7, 0.8, 0.9, 1], "labels": false, "tickSize": {"condition": {"test": "datum.value == 0.1", "value": -14}, "value": -8}, "title": null}},
                "y": {"field": "b", "type": "quantitative", "scale": {"domain": [0, 2], "nice": false},
                      "axis": {"orient": "left", "values": [0, 0.25, 0.5, 0.75, 1, 1.25, 1.5, 1.75, 2], "labels": false, "tickSize": {"condition": {"test": "datum.value % 0.5 == 0", "value": -15}, "value": -7}, "title": null}},
                "color": {"datum": "2_x", "type": "nominal"}
              }
            },
            {
              "mark": {"type": "line", "strokeWidth": 2.8, "clip": true},
              "encoding": {
                "x": {"field": "p", "type": "quantitative", "scale": {"type": "log", "domain": [0.01, 1], "nice": false},
                      "axis": {"orient": "top", "values": [0.01, 0.02, 0.03, 0.04, 0.05, 0.06, 0.07, 0.08, 0.09, 0.1, 0.2, 0.3, 0.4, 0.5, 0.6, 0.7, 0.8, 0.9, 1], "labels": false, "tickSize": {"condition": {"test": "datum.value == 0.1", "value": -14}, "value": -8}, "title": null}},
                "y": {"field": "k", "type": "quantitative", "scale": {"domain": [0, 2], "nice": false},
                      "axis": {"orient": "right", "values": [0, 0.25, 0.5, 0.75, 1, 1.25, 1.5, 1.75, 2], "labels": false, "tickSize": {"condition": {"test": "datum.value % 0.5 == 0", "value": -15}, "value": -7}, "title": null}},
                "color": {"datum": "prom.", "type": "nominal"}
              }
            }
          ],
          "resolve": {"axis": {"x": "independent", "y": "independent"}}
        },
        {
          "width": 423, "height": 397,
          "view": {"stroke": "#111", "strokeWidth": 2},
          "title": {"text": "(b)", "dx": -49, "offset": 11},
          "data": {"values": [
{"p":0.0100,"r":0.006,"b":0.005,"k":0.006},{"p":0.0103,"r":0.030,"b":0.008,"k":0.015},{"p":0.0107,"r":0.008,"b":0.005,"k":0.007},{"p":0.0112,"r":0.006,"b":0.004,"k":0.005},{"p":0.0120,"r":0.005,"b":0.004,"k":0.005},
{"p":0.0130,"r":0.007,"b":0.006,"k":0.007},{"p":0.0140,"r":0.010,"b":0.008,"k":0.009},{"p":0.0150,"r":0.014,"b":0.012,"k":0.013},{"p":0.0160,"r":0.020,"b":0.018,"k":0.019},{"p":0.0170,"r":0.028,"b":0.030,"k":0.028},
{"p":0.0175,"r":0.060,"b":0.134,"k":0.084},{"p":0.0180,"r":0.030,"b":0.036,"k":0.032},{"p":0.0188,"r":0.034,"b":0.036,"k":0.034},{"p":0.0196,"r":0.042,"b":0.040,"k":0.040},{"p":0.0205,"r":0.045,"b":0.042,"k":0.044},
{"p":0.0212,"r":0.055,"b":0.048,"k":0.050},{"p":0.0217,"r":0.090,"b":0.080,"k":0.100},{"p":0.0222,"r":0.052,"b":0.050,"k":0.052},{"p":0.0228,"r":0.058,"b":0.055,"k":0.056},{"p":0.0234,"r":0.075,"b":0.060,"k":0.065},
{"p":0.0240,"r":0.070,"b":0.058,"k":0.062},{"p":0.0245,"r":0.100,"b":0.070,"k":0.080},{"p":0.0249,"r":0.410,"b":0.150,"k":0.302},{"p":0.0252,"r":0.100,"b":0.060,"k":0.080},{"p":0.0256,"r":0.075,"b":0.055,"k":0.072},
{"p":0.0262,"r":0.090,"b":0.050,"k":0.070},{"p":0.0266,"r":0.150,"b":0.060,"k":0.100},{"p":0.0270,"r":0.193,"b":0.060,"k":0.109},{"p":0.0276,"r":0.120,"b":0.070,"k":0.100},{"p":0.0283,"r":0.327,"b":0.150,"k":0.235},
{"p":0.0287,"r":0.110,"b":0.075,"k":0.109},{"p":0.0292,"r":0.090,"b":0.070,"k":0.090},{"p":0.0300,"r":0.100,"b":0.080,"k":0.100},{"p":0.0307,"r":0.140,"b":0.110,"k":0.126},{"p":0.0313,"r":0.180,"b":0.160,"k":0.180},
{"p":0.0318,"r":0.250,"b":0.230,"k":0.260},{"p":0.0324,"r":0.220,"b":0.200,"k":0.240},{"p":0.0330,"r":0.260,"b":0.250,"k":0.280},{"p":0.0333,"r":0.800,"b":0.500,"k":1.000},{"p":0.0336,"r":2.050,"b":1.200,"k":1.700},
{"p":0.0339,"r":0.900,"b":0.700,"k":1.020},{"p":0.0342,"r":0.600,"b":0.600,"k":0.700},{"p":0.0345,"r":1.350,"b":0.450,"k":0.510},{"p":0.0350,"r":0.600,"b":0.350,"k":0.400},{"p":0.0355,"r":0.300,"b":0.300,"k":0.277},
{"p":0.0362,"r":0.230,"b":0.240,"k":0.230},{"p":0.0368,"r":0.200,"b":0.220,"k":0.218},{"p":0.0375,"r":0.180,"b":0.215,"k":0.210},{"p":0.0382,"r":0.200,"b":0.230,"k":0.218},{"p":0.0389,"r":0.260,"b":0.300,"k":0.280},
{"p":0.0396,"r":0.330,"b":0.390,"k":0.361},{"p":0.0401,"r":0.450,"b":0.480,"k":0.460},{"p":0.0406,"r":0.500,"b":0.560,"k":0.529},{"p":0.0411,"r":0.550,"b":0.680,"k":0.600},{"p":0.0415,"r":0.600,"b":0.700,"k":0.663},
{"p":0.0420,"r":0.450,"b":0.480,"k":0.470},{"p":0.0425,"r":0.400,"b":0.420,"k":0.428},{"p":0.0432,"r":0.360,"b":0.470,"k":0.450},{"p":0.0440,"r":0.420,"b":0.550,"k":0.529},{"p":0.0448,"r":0.500,"b":0.580,"k":0.560},
{"p":0.0456,"r":0.560,"b":0.620,"k":0.579},{"p":0.0465,"r":0.620,"b":0.800,"k":0.720},{"p":0.0474,"r":0.800,"b":0.900,"k":0.865},{"p":0.0482,"r":0.900,"b":1.100,"k":0.980},{"p":0.0491,"r":1.000,"b":1.200,"k":1.100},
{"p":0.0500,"r":1.200,"b":1.400,"k":1.300},{"p":0.0509,"r":1.300,"b":1.550,"k":1.450},{"p":0.0519,"r":1.350,"b":1.650,"k":1.560},{"p":0.0529,"r":1.500,"b":1.750,"k":1.670},{"p":0.0538,"r":1.600,"b":1.900,"k":1.840},
{"p":0.0543,"r":1.550,"b":2.000,"k":1.750},{"p":0.0548,"r":1.620,"b":1.700,"k":1.660},{"p":0.0553,"r":1.560,"b":1.780,"k":1.700},{"p":0.0558,"r":1.650,"b":1.800,"k":1.755},{"p":0.0566,"r":1.450,"b":1.600,"k":1.560},
{"p":0.0575,"r":1.400,"b":1.550,"k":1.537},{"p":0.0582,"r":1.300,"b":1.450,"k":1.400},{"p":0.0589,"r":1.280,"b":1.400,"k":1.335},{"p":0.0597,"r":1.450,"b":1.600,"k":1.500},{"p":0.0604,"r":1.560,"b":1.650,"k":1.620},
{"p":0.0610,"r":1.300,"b":1.400,"k":1.350},{"p":0.0617,"r":1.200,"b":1.260,"k":1.234},{"p":0.0625,"r":1.200,"b":1.300,"k":1.260},{"p":0.0634,"r":1.250,"b":1.330,"k":1.300},{"p":0.0645,"r":1.170,"b":1.250,"k":1.200},
{"p":0.0657,"r":1.100,"b":1.180,"k":1.150},{"p":0.0665,"r":1.000,"b":1.050,"k":1.030},{"p":0.0674,"r":0.850,"b":0.860,"k":0.865},{"p":0.0681,"r":0.950,"b":0.950,"k":0.960},{"p":0.0689,"r":1.000,"b":1.020,"k":1.030},
{"p":0.0698,"r":0.950,"b":0.960,"k":0.960},{"p":0.0707,"r":0.980,"b":0.960,"k":0.980},{"p":0.0716,"r":1.000,"b":0.980,"k":1.000},{"p":0.0725,"r":1.020,"b":0.960,"k":1.000},{"p":0.0736,"r":0.960,"b":0.850,"k":0.900},
{"p":0.0747,"r":0.930,"b":0.800,"k":0.865},{"p":0.0760,"r":0.880,"b":0.700,"k":0.800},{"p":0.0775,"r":0.850,"b":0.660,"k":0.764},{"p":0.0789,"r":0.760,"b":0.660,"k":0.740},{"p":0.0803,"r":0.700,"b":0.680,"k":0.730},
{"p":0.0818,"r":0.680,"b":0.700,"k":0.720},{"p":0.0833,"r":0.700,"b":0.720,"k":0.714},{"p":0.0849,"r":0.650,"b":0.760,"k":0.720},{"p":0.0865,"r":0.620,"b":0.800,"k":0.730},{"p":0.0881,"r":0.580,"b":0.790,"k":0.710},
{"p":0.0897,"r":0.620,"b":0.760,"k":0.697},{"p":0.0913,"r":0.680,"b":0.780,"k":0.730},{"p":0.0930,"r":0.720,"b":0.800,"k":0.764},{"p":0.0945,"r":0.780,"b":0.840,"k":0.820},{"p":0.0958,"r":0.850,"b":0.900,"k":0.865},
{"p":0.0970,"r":0.900,"b":0.960,"k":0.930},{"p":0.0983,"r":0.950,"b":1.000,"k":0.966},{"p":0.0995,"r":0.880,"b":0.920,"k":0.900},{"p":0.1008,"r":0.850,"b":0.860,"k":0.865},{"p":0.1022,"r":0.780,"b":0.760,"k":0.780},
{"p":0.1037,"r":0.720,"b":0.700,"k":0.714},{"p":0.1055,"r":0.680,"b":0.650,"k":0.670},{"p":0.1073,"r":0.700,"b":0.640,"k":0.663},{"p":0.1090,"r":0.680,"b":0.680,"k":0.680},{"p":0.1100,"r":0.650,"b":0.640,"k":0.663},
{"p":0.1116,"r":0.560,"b":0.560,"k":0.560},{"p":0.1132,"r":0.495,"b":0.495,"k":0.495},{"p":0.1150,"r":0.490,"b":0.490,"k":0.490},{"p":0.1170,"r":0.487,"b":0.487,"k":0.487},{"p":0.1200,"r":0.500,"b":0.500,"k":0.500},
{"p":0.1232,"r":0.537,"b":0.537,"k":0.537},{"p":0.1250,"r":0.520,"b":0.520,"k":0.520},{"p":0.1270,"r":0.480,"b":0.480,"k":0.480},{"p":0.1290,"r":0.400,"b":0.400,"k":0.400},{"p":0.1312,"r":0.330,"b":0.330,"k":0.327},
{"p":0.1350,"r":0.330,"b":0.330,"k":0.330},{"p":0.1386,"r":0.345,"b":0.345,"k":0.345},{"p":0.1420,"r":0.310,"b":0.310,"k":0.310},{"p":0.1460,"r":0.285,"b":0.285,"k":0.285},{"p":0.1500,"r":0.265,"b":0.265,"k":0.265},
{"p":0.1540,"r":0.270,"b":0.270,"k":0.270},{"p":0.1590,"r":0.277,"b":0.277,"k":0.277},{"p":0.1650,"r":0.255,"b":0.255,"k":0.255},{"p":0.1700,"r":0.230,"b":0.230,"k":0.230},{"p":0.1750,"r":0.218,"b":0.218,"k":0.218},
{"p":0.1830,"r":0.205,"b":0.205,"k":0.205},{"p":0.1910,"r":0.193,"b":0.193,"k":0.193},{"p":0.2000,"r":0.170,"b":0.170,"k":0.170},{"p":0.2070,"r":0.150,"b":0.150,"k":0.150},{"p":0.2140,"r":0.134,"b":0.134,"k":0.134},
{"p":0.2250,"r":0.125,"b":0.125,"k":0.125},{"p":0.2380,"r":0.118,"b":0.118,"k":0.118},{"p":0.2560,"r":0.112,"b":0.112,"k":0.112},{"p":0.2760,"r":0.109,"b":0.109,"k":0.109},{"p":0.2900,"r":0.102,"b":0.104,"k":0.103},
{"p":0.3070,"r":0.096,"b":0.096,"k":0.096},{"p":0.3300,"r":0.100,"b":0.100,"k":0.100},{"p":0.3600,"r":0.104,"b":0.104,"k":0.104},{"p":0.3830,"r":0.109,"b":0.109,"k":0.109},{"p":0.4050,"r":0.102,"b":0.102,"k":0.102},
{"p":0.4270,"r":0.096,"b":0.096,"k":0.096},{"p":0.4700,"r":0.102,"b":0.102,"k":0.102},{"p":0.5300,"r":0.112,"b":0.118,"k":0.115},{"p":0.5700,"r":0.105,"b":0.108,"k":0.106},{"p":0.6100,"r":0.100,"b":0.100,"k":0.100},
{"p":0.6800,"r":0.108,"b":0.110,"k":0.109},{"p":0.7500,"r":0.116,"b":0.122,"k":0.118},{"p":0.8200,"r":0.120,"b":0.126,"k":0.123},{"p":0.9000,"r":0.125,"b":0.128,"k":0.127},{"p":1.0000,"r":0.130,"b":0.132,"k":0.130}
          ]},
          "layer": [
            {
              "mark": {"type": "line", "strokeWidth": 1.2, "clip": true},
              "encoding": {
                "x": {"field": "p", "type": "quantitative", "scale": {"type": "log", "domain": [0.01, 1], "nice": false},
                      "axis": {"orient": "bottom", "values": [0.01, 0.1, 1], "ticks": false, "labelExpr": "'' + datum.value", "labelPadding": 12, "labelFontSize": 16, "title": "Periodo", "titleFontSize": 16, "titlePadding": 12}},
                "y": {"field": "r", "type": "quantitative", "scale": {"domain": [0, 2], "nice": false},
                      "axis": {"orient": "left", "values": [0, 0.5, 1, 1.5, 2], "ticks": false, "labelExpr": "'' + datum.value", "labelPadding": 12, "labelFontSize": 16, "title": null}},
                "color": {"datum": "1_y", "type": "nominal",
                          "scale": {"domain": ["1_y", "2_y", "prom."], "range": ["#d42a2a", "#2a2aa0", "#000000"]},
                          "legend": {"orient": "none", "legendX": 293, "legendY": 24, "title": null, "padding": 0, "symbolType": "stroke", "symbolSize": 7225, "symbolStrokeWidth": 1.3, "labelFontSize": 16, "labelOffset": 46, "rowPadding": 3.5,
                                     "encode": {"labels": {"update": {"fill": {"signal": "datum.value == '1_y' ? '#d42a2a' : datum.value == '2_y' ? '#2a2aa0' : '#111111'"}}},
                                                "symbols": {"update": {"strokeWidth": {"signal": "datum.value == 'prom.' ? 3 : 1.3"}}}}}}
              }
            },
            {
              "mark": {"type": "line", "strokeWidth": 1.2, "clip": true},
              "encoding": {
                "x": {"field": "p", "type": "quantitative", "scale": {"type": "log", "domain": [0.01, 1], "nice": false},
                      "axis": {"orient": "bottom", "values": [0.01, 0.02, 0.03, 0.04, 0.05, 0.06, 0.07, 0.08, 0.09, 0.1, 0.2, 0.3, 0.4, 0.5, 0.6, 0.7, 0.8, 0.9, 1], "labels": false, "tickSize": {"condition": {"test": "datum.value == 0.1", "value": -14}, "value": -8}, "title": null}},
                "y": {"field": "b", "type": "quantitative", "scale": {"domain": [0, 2], "nice": false},
                      "axis": {"orient": "left", "values": [0, 0.25, 0.5, 0.75, 1, 1.25, 1.5, 1.75, 2], "labels": false, "tickSize": {"condition": {"test": "datum.value % 0.5 == 0", "value": -15}, "value": -7}, "title": null}},
                "color": {"datum": "2_y", "type": "nominal"}
              }
            },
            {
              "mark": {"type": "line", "strokeWidth": 2.8, "clip": true},
              "encoding": {
                "x": {"field": "p", "type": "quantitative", "scale": {"type": "log", "domain": [0.01, 1], "nice": false},
                      "axis": {"orient": "top", "values": [0.01, 0.02, 0.03, 0.04, 0.05, 0.06, 0.07, 0.08, 0.09, 0.1, 0.2, 0.3, 0.4, 0.5, 0.6, 0.7, 0.8, 0.9, 1], "labels": false, "tickSize": {"condition": {"test": "datum.value == 0.1", "value": -14}, "value": -8}, "title": null}},
                "y": {"field": "k", "type": "quantitative", "scale": {"domain": [0, 2], "nice": false},
                      "axis": {"orient": "right", "values": [0, 0.25, 0.5, 0.75, 1, 1.25, 1.5, 1.75, 2], "labels": false, "tickSize": {"condition": {"test": "datum.value % 0.5 == 0", "value": -15}, "value": -7}, "title": null}},
                "color": {"datum": "prom.", "type": "nominal"}
              }
            }
          ],
          "resolve": {"axis": {"x": "independent", "y": "independent"}}
        }
      ]
    }
  ]
}
